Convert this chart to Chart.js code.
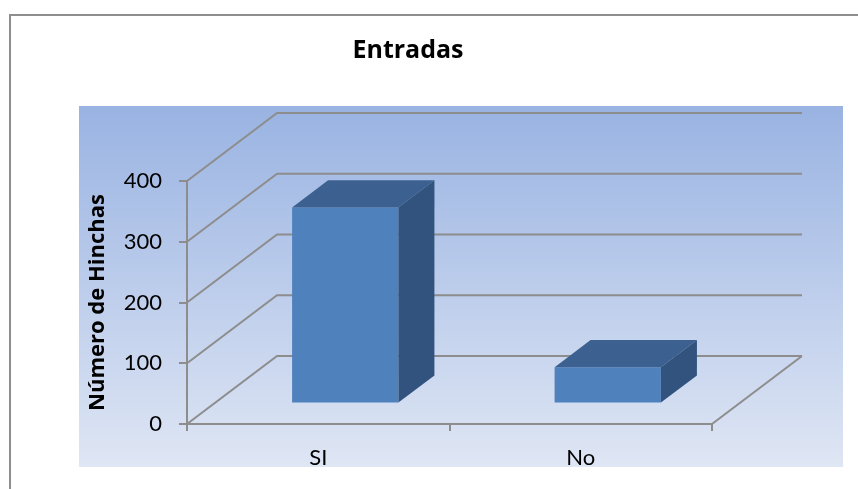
<!DOCTYPE html>
<html>
<head>
<meta charset="utf-8">
<script src="https://cdn.jsdelivr.net/npm/chart.js@4.4.1/dist/chart.umd.min.js"></script>
<style>
  html, body { margin: 0; padding: 0; background: #fff; }
  body { width: 858px; height: 489px; position: relative; overflow: hidden; }
  #frame { position: absolute; left: 9px; top: 14px; width: 900px; height: 500px;
           border-top: 2px solid #8e8e8e; border-left: 2px solid #8e8e8e; }
  #entradas { position: absolute; left: 0; top: 0; }
</style>
</head>
<body>
<div id="frame"></div>
<canvas id="entradas" width="858" height="467"></canvas>
<script>
var categories = ['SI', 'No'];
var hinchas = [323, 60];
var yTickValues = [0, 100, 200, 300, 400];

// depth of the 3D box (floor / back wall) in px
var depth = { x: 90, y: 68 };
// bars sit between these fractions of the depth
var barFront = 0.3, barBack = 0.7;
var gridColor = '#8d8d8d';

var ctx = document.getElementById('entradas').getContext('2d');

var wall3d = {
  id: 'wall3d',
  beforeDraw: function(chart) {
    var c = chart.ctx, a = chart.chartArea;
    var top = a.top - 75, left = a.left - 108, right = a.right + 131, bottom = chart.height;
    var g = c.createLinearGradient(0, top, 0, bottom);
    g.addColorStop(0, '#99b3e2');
    g.addColorStop(1, '#dfe6f4');
    c.save();
    c.fillStyle = g;
    c.fillRect(left, top, right - left, bottom - top);
    c.restore();
  },
  beforeDatasetsDraw: function(chart) {
    var c = chart.ctx, a = chart.chartArea, y = chart.scales.y;
    c.save();
    c.strokeStyle = gridColor;
    c.lineWidth = 2;
    c.beginPath();
    y.ticks.forEach(function(t) {
      var py = y.getPixelForValue(t.value);
      c.moveTo(a.left, py);
      c.lineTo(a.left + depth.x, py - depth.y);
      c.lineTo(a.right + depth.x, py - depth.y);
    });
    // right edge of the floor
    c.moveTo(a.right, a.bottom);
    c.lineTo(a.right + depth.x, a.bottom - depth.y);
    c.stroke();
    c.restore();
    // front faces are drawn by chart.js, pushed back into the box
    c.save();
    c.translate(depth.x * barFront, -depth.y * barFront);
  },
  afterDatasetsDraw: function(chart) {
    var c = chart.ctx;
    c.restore();
    var ox = depth.x * barFront, oy = depth.y * barFront;
    var dx = depth.x * (barBack - barFront), dy = depth.y * (barBack - barFront);
    chart.getDatasetMeta(0).data.forEach(function(bar) {
      var p = bar.getProps(['x', 'y', 'base', 'width'], true);
      var l = p.x - p.width / 2 + ox, r = p.x + p.width / 2 + ox;
      var t = p.y - oy, b = p.base - oy;
      // top
      c.fillStyle = '#3c6190';
      c.beginPath();
      c.moveTo(l, t); c.lineTo(r, t); c.lineTo(r + dx, t - dy); c.lineTo(l + dx, t - dy);
      c.closePath(); c.fill();
      // side
      c.fillStyle = '#31537e';
      c.beginPath();
      c.moveTo(r, t); c.lineTo(r + dx, t - dy); c.lineTo(r + dx, b - dy); c.lineTo(r, b);
      c.closePath(); c.fill();
    });
  }
};

var myChart = new Chart(ctx, {
  type: 'bar',
  data: {
    labels: categories,
    datasets: [{
      data: hinchas,
      backgroundColor: '#4f81bd',
      borderWidth: 0,
      barPercentage: 0.405,
      categoryPercentage: 1,
      clip: false
    }]
  },
  options: {
    responsive: false,
    animation: false,
    events: [],
    layout: { padding: { left: 104, right: 146, top: 0, bottom: 0 } },
    plugins: {
      legend: { display: false },
      tooltip: { enabled: false },
      title: {
        display: true,
        text: 'Entradas',
        color: '#000',
        font: { family: 'Open Sans', size: 25, weight: 'bold' },
        padding: { top: 36, bottom: 115 }
      }
    },
    scales: {
      x: {
        grid: { drawOnChartArea: false, tickLength: 7, color: gridColor, lineWidth: 2 },
        border: { color: gridColor, width: 2 },
        ticks: { color: '#000', font: { family: 'Lato', size: 22 }, padding: 14 },
        afterFit: function(s) { s.height = 43; }
      },
      y: {
        min: 0,
        max: 400,
        afterBuildTicks: function(s) {
          s.ticks = yTickValues.map(function(v) { return { value: v }; });
        },
        grid: { drawOnChartArea: false, tickLength: 8, color: gridColor, lineWidth: 2 },
        border: { color: gridColor, width: 2 },
        ticks: { color: '#000', font: { family: 'Lato', size: 22 }, padding: 17 },
        title: {
          display: true,
          text: 'Número de Hinchas',
          color: '#000',
          font: { family: 'Open Sans', size: 22, weight: 'bold' },
          padding: { top: -19, bottom: 0 }
        },
        afterFit: function(s) { s.width = 83; }
      }
    }
  },
  plugins: [wall3d]
});
</script>
</body>
</html>
